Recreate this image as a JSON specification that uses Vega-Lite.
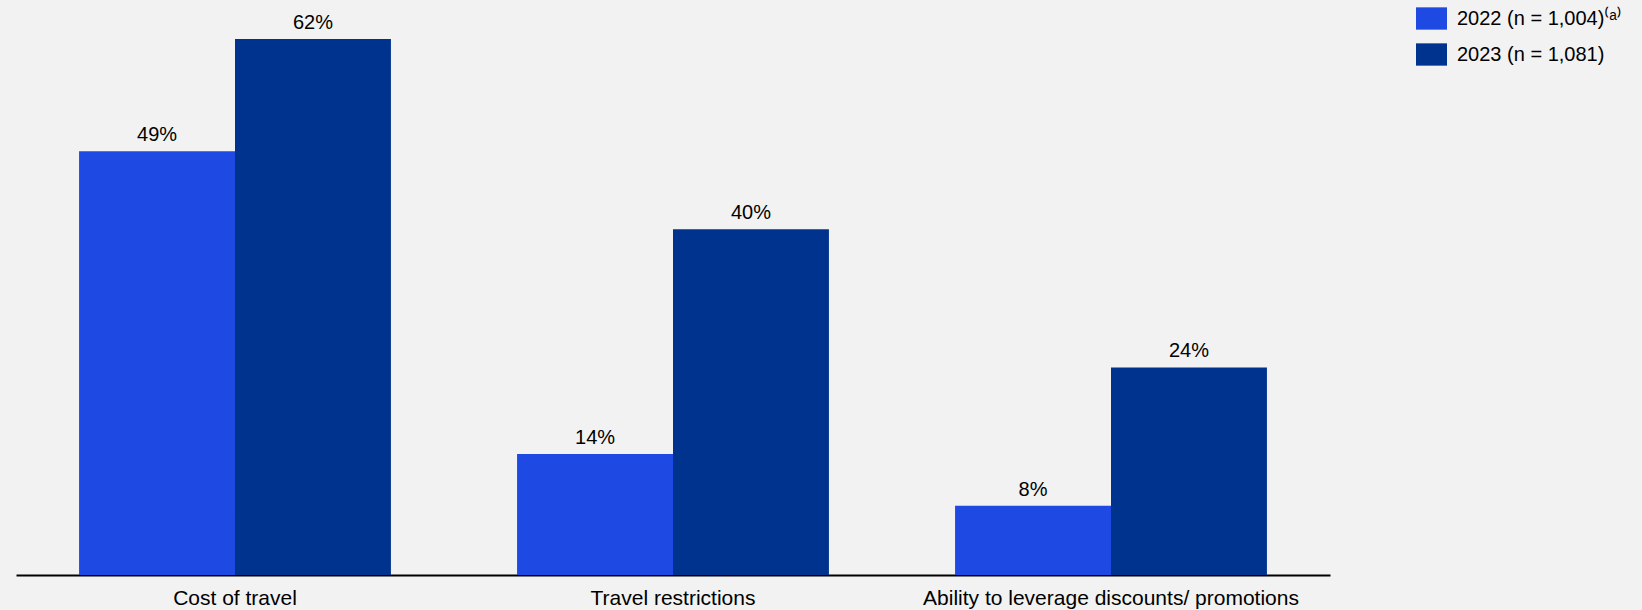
{
  "$schema": "https://vega.github.io/schema/vega-lite/v6.json",
  "width": 1314,
  "height": 575,
  "autosize": {"type": "none"},
  "padding": {"left": 16, "top": 0, "right": 312, "bottom": 35},
  "background": "#f2f2f2",
  "config": {
    "view": {"stroke": null},
    "font": "Liberation Sans"
  },
  "data": {
    "values": [
      {"category": "Cost of travel", "series": "2022 (n = 1,004)⁽ᵃ⁾", "value": 49, "label": "49%"},
      {"category": "Cost of travel", "series": "2023 (n = 1,081)", "value": 62, "label": "62%"},
      {"category": "Travel restrictions", "series": "2022 (n = 1,004)⁽ᵃ⁾", "value": 14, "label": "14%"},
      {"category": "Travel restrictions", "series": "2023 (n = 1,081)", "value": 40, "label": "40%"},
      {"category": "Ability to leverage discounts/ promotions", "series": "2022 (n = 1,004)⁽ᵃ⁾", "value": 8, "label": "8%"},
      {"category": "Ability to leverage discounts/ promotions", "series": "2023 (n = 1,081)", "value": 24, "label": "24%"}
    ]
  },
  "encoding": {
    "x": {
      "field": "category",
      "type": "nominal",
      "sort": null,
      "scale": {"paddingInner": 0.288, "paddingOuter": 0.144},
      "axis": {
        "title": null,
        "labelAngle": 0,
        "labelFontSize": 21,
        "labelColor": "#000000",
        "labelPadding": 12,
        "labelLimit": 600,
        "ticks": false,
        "domainColor": "#000000",
        "domainWidth": 2
      }
    },
    "xOffset": {"field": "series", "type": "nominal", "sort": null},
    "y": {
      "field": "value",
      "type": "quantitative",
      "scale": {"domain": [0, 66.5], "nice": false},
      "axis": null
    }
  },
  "layer": [
    {
      "mark": {"type": "bar"},
      "encoding": {
        "color": {
          "field": "series",
          "type": "nominal",
          "sort": null,
          "scale": {"range": ["#1e49e2", "#00338d"]},
          "legend": {
            "title": null,
            "orient": "none",
            "legendX": 1400,
            "legendY": 3,
            "padding": 0,
            "symbolType": "M-1,-0.72H1V0.72H-1Z",
            "symbolSize": 961,
            "symbolStrokeWidth": 0,
            "symbolOpacity": 1,
            "labelFontSize": 20,
            "labelColor": "#000000",
            "labelOffset": 10,
            "labelLimit": 300,
            "rowPadding": 9
          }
        }
      }
    },
    {
      "mark": {"type": "text", "baseline": "alphabetic", "dy": -10, "fontSize": 20, "color": "#000000"},
      "encoding": {
        "text": {"field": "label"}
      }
    }
  ]
}
